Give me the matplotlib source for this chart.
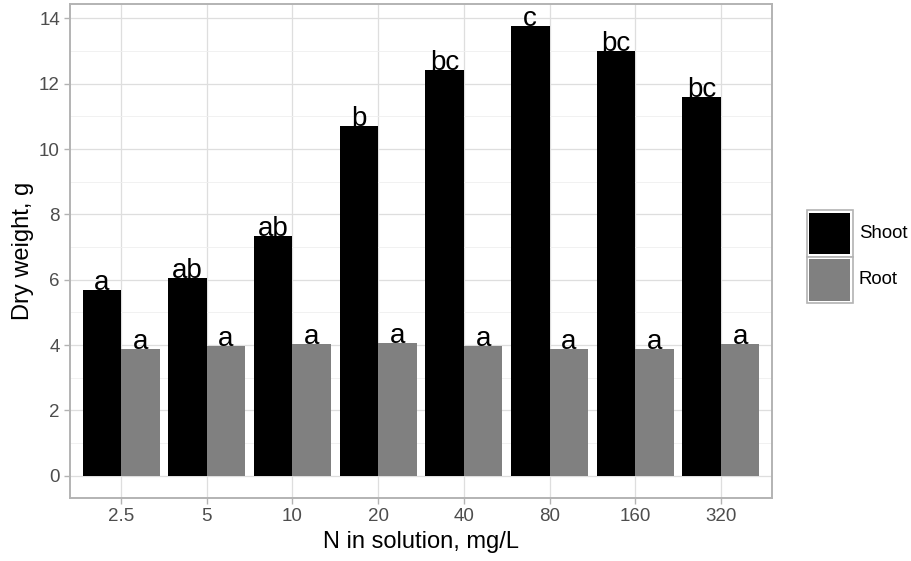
import matplotlib
matplotlib.use("Agg")
import matplotlib.pyplot as plt
import numpy as np
from matplotlib.patches import Rectangle

plt.rcParams['font.family'] = ['Liberation Sans', 'DejaVu Sans']

# data
n_levels = ['2.5', '5', '10', '20', '40', '80', '160', '320']
shoot = [5.69, 6.05, 7.34, 10.71, 12.43, 13.75, 13.01, 11.60]
root = [3.88, 3.96, 4.03, 4.05, 3.97, 3.89, 3.87, 4.02]
shoot_letters = ['a', 'ab', 'ab', 'b', 'bc', 'c', 'bc', 'bc']
root_letters = ['a', 'a', 'a', 'a', 'a', 'a', 'a', 'a']
groups = ['Shoot', 'Root']
colors = ['black', '#808080']

border = '#B3B3B3'
W, H = 912, 561

fig = plt.figure(figsize=(W / 100, H / 100), dpi=100)
ax = fig.add_axes([0.0764, 0.1118, 0.8468 - 0.0764, 0.9929 - 0.1118])

x = np.arange(len(n_levels))
w = 0.45
ax.bar(x - w / 2, shoot, width=w, color=colors[0], zorder=3)
ax.bar(x + w / 2, root, width=w, color=colors[1], zorder=3)

for i in range(len(n_levels)):
    ax.text(x[i] - w / 2, shoot[i], shoot_letters[i], ha='center', va='baseline',
            fontsize=20, color='black', zorder=4)
    ax.text(x[i] + w / 2, root[i], root_letters[i], ha='center', va='baseline',
            fontsize=20, color='black', zorder=4)

top = max(shoot)
ax.set_ylim(-0.05 * top, top * 1.05)
ax.set_xlim(-0.6, len(n_levels) - 1 + 0.6)
ax.set_yticks(np.arange(0, 15, 2))
ax.set_yticks(np.arange(1, 15, 2), minor=True)
ax.set_xticks(x)
ax.set_xticklabels(n_levels)

ax.grid(True, which='major', color='#DEDEDE', linewidth=0.9, zorder=0)
ax.grid(True, which='minor', axis='y', color='#EFEFEF', linewidth=0.6, zorder=0)
ax.set_axisbelow(True)

for s in ax.spines.values():
    s.set_color(border)
    s.set_linewidth(1.4)

ax.tick_params(which='major', length=4, width=1, color=border, labelcolor='#4D4D4D',
               labelsize=13.5, pad=3)
ax.tick_params(which='minor', length=0)

ax.set_xlabel('N in solution, mg/L', fontsize=17, labelpad=4)
ax.set_ylabel('Dry weight, g', fontsize=17, labelpad=4)

# legend drawn by hand (ggplot-style keys)
key_x, key_w, key_h, key_top = 807, 46, 46.5, 210
for k, (name, col) in enumerate(zip(groups, colors)):
    y0 = key_top + k * key_h
    fig.add_artist(Rectangle((key_x / W, 1 - (y0 + key_h) / H), key_w / W, key_h / H,
                             transform=fig.transFigure, facecolor='white',
                             edgecolor=border, linewidth=1.2))
    pad = 2.5
    fig.add_artist(Rectangle(((key_x + pad) / W, 1 - (y0 + key_h - pad) / H),
                             (key_w - 2 * pad) / W, (key_h - 2 * pad) / H,
                             transform=fig.transFigure, facecolor=col,
                             edgecolor='none'))
    fig.text((key_x + key_w + 6) / W, 1 - (y0 + key_h / 2) / H, name,
             ha='left', va='center', fontsize=13.4, color='black')

fig.savefig('out.png', dpi=100)
